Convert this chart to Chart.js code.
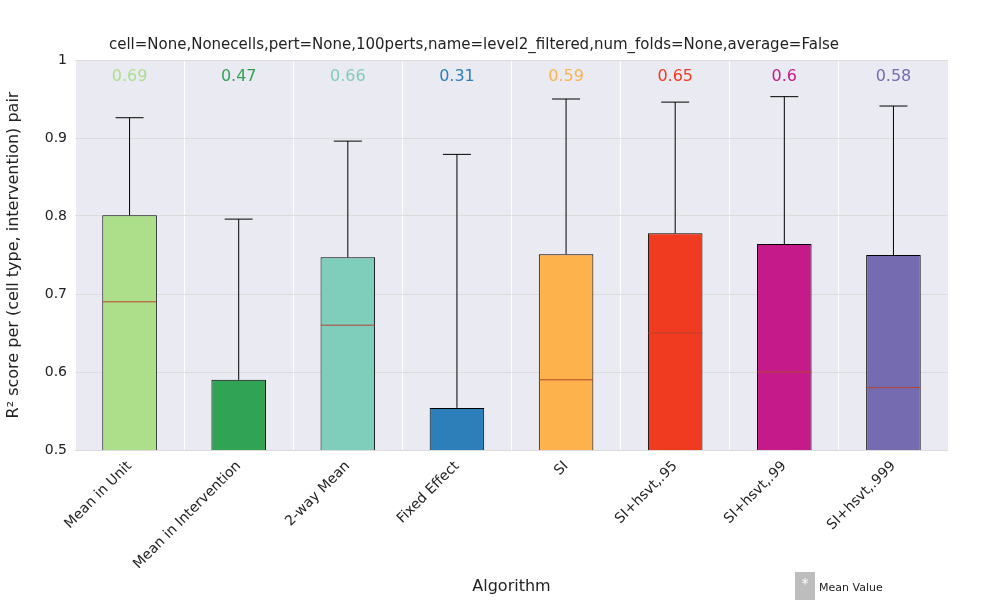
<!DOCTYPE html>
<html>
<head>
<meta charset="utf-8">
<script src="https://cdn.jsdelivr.net/npm/chart.js@4"></script>
<style>body{margin:0;background:#fff}</style>
</head>
<body>
<canvas id="c" width="1000" height="600"></canvas>
<script>
const algorithms = ['Mean in Unit', 'Mean in Intervention', '2-way Mean', 'Fixed Effect', 'SI', 'SI+hsvt,.95', 'SI+hsvt,.99', 'SI+hsvt,.999'];
const q1Values = [0.45, 0.40, 0.45, 0.40, 0.45, 0.45, 0.45, 0.45];
const q3Values = [0.801, 0.590, 0.747, 0.554, 0.751, 0.778, 0.764, 0.750];
const medians = [0.69, 0.47, 0.66, 0.31, 0.59, 0.65, 0.60, 0.58];
const whiskerTops = [0.926, 0.796, 0.896, 0.879, 0.950, 0.946, 0.953, 0.941];
const medianLabels = ['0.69', '0.47', '0.66', '0.31', '0.59', '0.65', '0.6', '0.58'];
const colors = ['#addf8b', '#31a354', '#7fcdbb', '#2c7fb8', '#feb24c', '#f03b20', '#c51b8a', '#756bb1'];

const font = 'DejaVu Sans';

// whiskers, medians, median labels, legend
const boxExtras = {
  id: 'boxExtras',
  afterDatasetsDraw(chart) {
    const { ctx, chartArea, scales: { x, y } } = chart;
    ctx.save();
    ctx.beginPath();
    ctx.rect(chartArea.left, chartArea.top, chartArea.width, chartArea.height);
    ctx.clip();
    algorithms.forEach((a, i) => {
      const cx = x.getPixelForValue(i);
      const yTop = y.getPixelForValue(whiskerTops[i]);
      const yQ3 = y.getPixelForValue(q3Values[i]);
      ctx.strokeStyle = '#000';
      ctx.lineWidth = 1;
      ctx.beginPath();
      ctx.moveTo(cx, yQ3); ctx.lineTo(cx, yTop);
      ctx.moveTo(cx - 14, yTop); ctx.lineTo(cx + 14, yTop);
      ctx.stroke();
      const ym = y.getPixelForValue(medians[i]);
      ctx.strokeStyle = '#b5452c';
      ctx.beginPath();
      ctx.moveTo(cx - 27, ym); ctx.lineTo(cx + 27, ym);
      ctx.stroke();
    });
    ctx.restore();
    ctx.save();
    ctx.font = '16px ' + font;
    ctx.textAlign = 'center';
    ctx.textBaseline = 'middle';
    algorithms.forEach((a, i) => {
      ctx.fillStyle = colors[i];
      ctx.fillText(medianLabels[i], x.getPixelForValue(i), 77);
    });
    // legend
    ctx.fillStyle = '#bdbdbd';
    ctx.fillRect(795, 572, 20, 28);
    ctx.fillStyle = '#fff';
    ctx.font = '14px ' + font;
    ctx.fillText('*', 805, 584);
    ctx.fillStyle = '#222';
    ctx.font = '11px ' + font;
    ctx.textAlign = 'left';
    ctx.fillText('Mean Value', 819, 588);
    ctx.restore();
  }
};

new Chart(document.getElementById('c'), {
  type: 'bar',
  data: {
    labels: algorithms,
    datasets: [{
      data: algorithms.map((a, i) => [q1Values[i], q3Values[i]]),
      backgroundColor: colors,
      borderColor: '#000',
      borderWidth: 1,
      borderSkipped: false,
      barPercentage: 0.5,
      categoryPercentage: 1
    }]
  },
  options: {
    responsive: false,
    animation: false,
    layout: { padding: { top: 36, right: 52, left: 0, bottom: 0 } },
    plugins: {
      legend: { display: false },
      tooltip: { enabled: false },
      title: {
        display: true,
        text: 'cell=None,Nonecells,pert=None,100perts,name=level2_filtered,num_folds=None,average=False',
        color: '#222',
        font: { family: font, size: 15, weight: 'normal' },
        padding: { top: 0, bottom: 6 }
      }
    },
    scales: {
      x: {
        grid: { color: '#ffffff', drawTicks: false },
        border: { display: false },
        ticks: { color: '#222', font: { family: font, size: 14 }, minRotation: 45, maxRotation: 45, padding: 8 },
        title: { display: true, text: 'Algorithm', color: '#222', font: { family: font, size: 16 }, padding: { top: 20 } },
        afterFit(s) { s.height = 150; }
      },
      y: {
        min: 0.5, max: 1.0,
        grid: { color: '#dcdcdc', drawTicks: false },
        border: { display: false },
        ticks: { stepSize: 0.1, color: '#222', font: { family: font, size: 14 }, padding: 8,
          callback: v => (Math.round(v * 10) / 10).toString() },
        title: { display: true, text: 'R² score per (cell type, intervention) pair', color: '#222', font: { family: font, size: 16 } },
        afterFit(s) { s.width = 75; }
      }
    }
  },
  plugins: [{
    id: 'bg',
    beforeDraw(chart) {
      const { ctx, chartArea: a } = chart;
      ctx.save();
      ctx.fillStyle = '#eaeaf2';
      ctx.fillRect(a.left, a.top, a.width, a.height);
      ctx.restore();
    }
  }, boxExtras]
});
</script>
</body>
</html>
